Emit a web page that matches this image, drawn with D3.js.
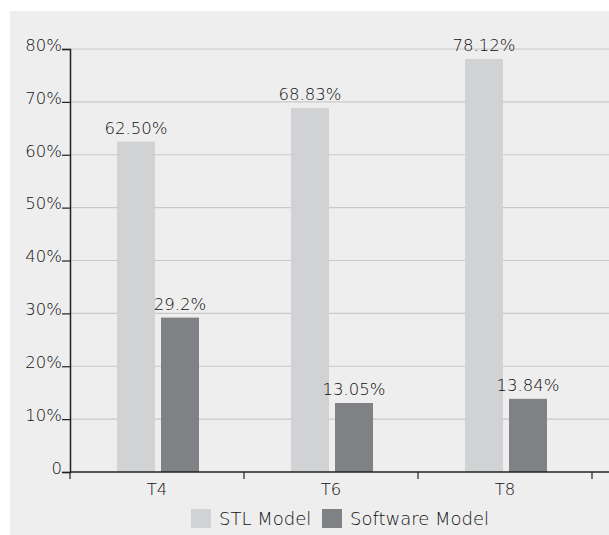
<!DOCTYPE html>
<html>
<head>
<meta charset="utf-8">
<script src="https://cdn.jsdelivr.net/npm/d3@7"></script>
<style>
  body { margin: 0; background: #fff; }
  text { font-family: "DejaVu Sans", sans-serif; font-weight: 200; fill: #111; }
</style>
</head>
<body>
<div id="chart"></div>
<script>
// values
const categories = ["T4", "T6", "T8"];
const seriesNames = ["STL Model", "Software Model"];
const stlValues = [62.50, 68.83, 78.12];
const softwareValues = [29.2, 13.05, 13.84];
const stlLabels = ["62.50%", "68.83%", "78.12%"];
const softwareLabels = ["29.2%", "13.05%", "13.84%"];
const yTicks = [0, 10, 20, 30, 40, 50, 60, 70, 80];

const colors = { "STL Model": "#d1d2d4", "Software Model": "#808184" };

let width = 609, height = 535;

let margin = {
  top: 49,
  bottom: 63,
  left: 70,
  right: 17
};

let svg = d3.select("#chart")
  .append("svg")
  .attr("width", width)
  .attr("height", height);

// grey panel
svg.append("rect")
  .attr("x", 10)
  .attr("y", 11)
  .attr("width", width - 10)
  .attr("height", height - 11)
  .style("fill", "#eeeeee");

let yscale = d3.scaleLinear()
  .domain([0, 80])
  .range([height - margin.bottom, margin.top]);

let xscale = d3.scaleBand()
  .domain(categories)
  .range([margin.left, width - margin.right]);

let inner = d3.scaleBand()
  .domain(seriesNames)
  .range([47, 129])
  .paddingInner(6 / 44);

// horizontal grid
svg.append("g")
  .selectAll("line")
  .data(yTicks.filter(d => d > 0))
  .join("line")
  .attr("x1", margin.left)
  .attr("x2", width)
  .attr("y1", d => yscale(d))
  .attr("y2", d => yscale(d))
  .attr("stroke", "#c9c9c9")
  .attr("stroke-width", 1.2);

const rows = categories.map((c, i) => ({
  cat: c,
  values: [
    { name: "STL Model", value: stlValues[i], label: stlLabels[i] },
    { name: "Software Model", value: softwareValues[i], label: softwareLabels[i] }
  ]
}));

let groups = svg.append("g")
  .selectAll("g")
  .data(rows)
  .join("g")
  .attr("transform", d => `translate(${xscale(d.cat)},0)`);

groups.selectAll("rect")
  .data(d => d.values)
  .join("rect")
  .attr("x", d => inner(d.name))
  .attr("y", d => yscale(d.value))
  .attr("width", inner.bandwidth())
  .attr("height", d => yscale(0) - yscale(d.value))
  .style("fill", d => colors[d.name]);

groups.selectAll("text")
  .data(d => d.values)
  .join("text")
  .attr("x", d => inner(d.name) + inner.bandwidth() / 2)
  .attr("y", d => yscale(d.value) - 8)
  .attr("text-anchor", "middle")
  .attr("font-size", 16.5)
  .text(d => d.label);

// y axis
let yaxis = svg.append("g")
  .attr("transform", `translate(${margin.left},0)`)
  .call(d3.axisLeft(yscale)
    .tickValues(yTicks)
    .tickSize(8)
    .tickPadding(0)
    .tickFormat(d => d === 0 ? "0" : d + "%"));

yaxis.select(".domain").attr("stroke", "#222").attr("stroke-width", 1.5);
yaxis.selectAll(".tick line").attr("stroke", "#222").attr("stroke-width", 1.2);
yaxis.selectAll(".tick text")
  .attr("dy", "0.08em")
  .attr("font-size", 16.5)
  .style("fill", "#111");

// x axis
let xaxis = svg.append("g")
  .attr("transform", `translate(0,${yscale(0)})`)
  .call(d3.axisBottom(xscale).tickSize(0).tickPadding(23));

xaxis.select(".domain").remove();
xaxis.selectAll(".tick text")
  .attr("dy", 0)
  .attr("font-size", 16.5)
  .style("fill", "#111");

xaxis.append("line")
  .attr("x1", margin.left)
  .attr("x2", width)
  .attr("stroke", "#222")
  .attr("stroke-width", 1.5);

const edges = categories.map(c => xscale(c)).concat([xscale(categories[categories.length - 1]) + xscale.step()]);

xaxis.selectAll(".edge")
  .data(edges)
  .join("line")
  .attr("class", "edge")
  .attr("x1", d => d)
  .attr("x2", d => d)
  .attr("y1", 0)
  .attr("y2", 7)
  .attr("stroke", "#222")
  .attr("stroke-width", 1.2);

// legend
const legendX = [191, 322];
let legend = svg.append("g")
  .attr("transform", `translate(0,509)`);

legend.selectAll("rect")
  .data(seriesNames)
  .join("rect")
  .attr("x", (d, i) => legendX[i])
  .attr("y", 0)
  .attr("width", 20)
  .attr("height", 19)
  .style("fill", d => colors[d]);

legend.selectAll("text")
  .data(seriesNames)
  .join("text")
  .attr("x", (d, i) => legendX[i] + 28)
  .attr("y", 16)
  .attr("font-size", 18)
  .text(d => d);
</script>
</body>
</html>
